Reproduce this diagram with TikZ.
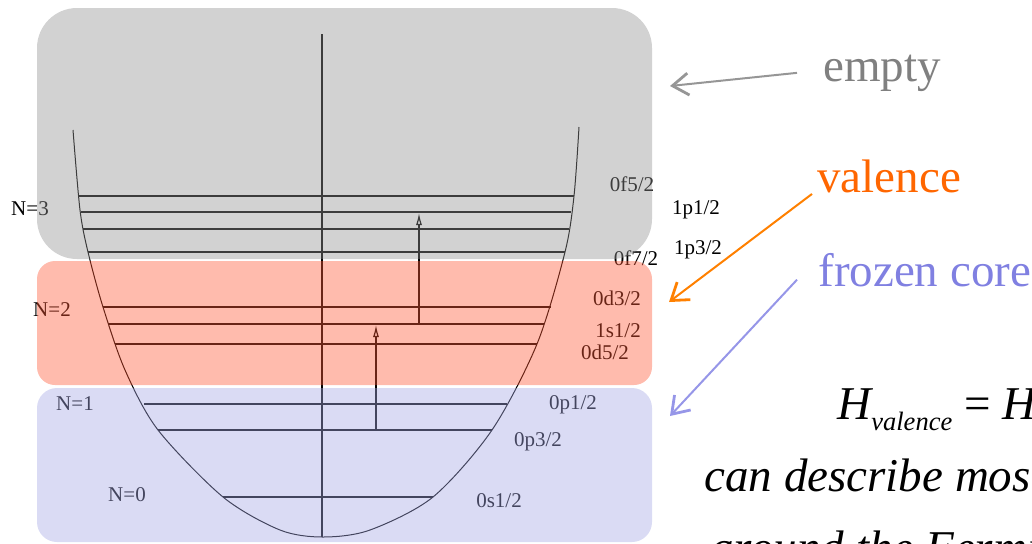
\documentclass[tikz,border=0pt]{standalone}
\usepackage{fontspec}
\setmainfont{Liberation Serif}
\usetikzlibrary{arrows.meta}
\definecolor{emptygray}{RGB}{146,146,146}
\definecolor{valred}{RGB}{255,89,55}
\definecolor{coreblue}{RGB}{165,168,229}
\definecolor{txtgray}{RGB}{128,128,128}
\definecolor{txtorange}{RGB}{255,102,0}
\definecolor{txtblue}{RGB}{128,128,225}
\definecolor{arrgray}{RGB}{150,150,150}
\definecolor{arrorange}{RGB}{255,128,0}
\definecolor{arrblue}{RGB}{150,150,232}
\begin{document}
\begin{tikzpicture}[x=0.5pt,y=-0.5pt,
    level/.style={line width=0.8pt},
    lab/.style={font=\fontsize{10.5}{12}\selectfont, inner sep=0pt},
    big/.style={font=\fontsize{23.5}{28}\selectfont, inner sep=0pt, anchor=base west},
    bigit/.style={font=\fontsize{23.5}{28}\selectfont\itshape, inner sep=0pt, anchor=base west},
    pointer/.style={line width=1pt, -{Straight Barb[length=8pt,width=11pt,line width=1.4pt]}},
    exc/.style={line width=0.6pt, -{Latex[open,length=6pt,width=3pt]}},
    band/.style={fill opacity=0.41, rounded corners=#1}]
  \useasboundingbox (0,0) rectangle (1032,543);
  \clip (0,0) rectangle (1032,543);
  % oscillator well and axis
  \draw[line width=0.5pt] plot[smooth] coordinates {(73,130) (80,210) (88,252) (103,307)
    (125,370) (158,430) (223,497) (280,530) (323,537) (370,530) (433,497) (492,430)
    (537,344) (565,252) (574,196) (579,127)};
  \coordinate (axtop) at (322,34);
  \coordinate (axbot) at (322,537);
  \draw[line width=0.8pt] (axtop) -- (axbot);
  % level ends
  \coordinate (f52l) at (78,196);  \coordinate (f52r) at (574,196);
  \coordinate (p12l) at (81,212);  \coordinate (p12r) at (571,212);
  \coordinate (p32l) at (83,229);  \coordinate (p32r) at (569,229);
  \coordinate (f72l) at (88,252);  \coordinate (f72r) at (565,252);
  \coordinate (d32l) at (103,307); \coordinate (d32r) at (551,307);
  \coordinate (s12l) at (108,324); \coordinate (s12r) at (544,324);
  \coordinate (d52l) at (115,344); \coordinate (d52r) at (537,344);
  \coordinate (op12l) at (144,404); \coordinate (op12r) at (507,404);
  \coordinate (op32l) at (158,430); \coordinate (op32r) at (492,430);
  \coordinate (os12l) at (223,497); \coordinate (os12r) at (433,497);
  \path[level]
    (f52l) edge (f52r)
    (p12l) edge (p12r)
    (p32l) edge (p32r)
    (f72l) edge (f72r)
    (d32l) edge (d32r)
    (s12l) edge (s12r)
    (d52l) edge (d52r)
    (op12l) edge (op12r)
    (op32l) edge (op32r)
    (os12l) edge (os12r);
  % shell labels
  \node[lab] (N3) at (30,209) {N=3};
  \node[lab] (N2) at (52,310) {N=2};
  \node[lab] (N1) at (75,404) {N=1};
  \node[lab] (N0) at (127,495) {N=0};
  \node[lab] (f52) at (632,184) {0f5/2};
  \node[lab] (p12) at (696,210) {1p1/2};
  \node[lab] (p32) at (698,250) {1p3/2};
  \node[lab] (f72) at (636,258) {0f7/2};
  \node[lab] (d32) at (617,298) {0d3/2};
  \node[lab] (s12) at (618,331) {1s1/2};
  \node[lab] (d52) at (605,352) {0d5/2};
  \node[lab] (op12) at (573,405) {0p1/2};
  \node[lab] (op32) at (538,442) {0p3/2};
  \node[lab] (os12) at (499,501) {0s1/2};
  % excitations
  \coordinate (h1) at (376,430); \coordinate (e1) at (376,325);
  \coordinate (h2) at (419,324); \coordinate (e2) at (419,213);
  \draw[exc] (h1) -- (e1);
  \draw[exc] (h2) -- (e2);
  % spaces
  \fill[emptygray, band=20pt] (37,8) rectangle (652,259);
  \fill[valred, band=9pt] (37,261) rectangle (652,385);
  \fill[coreblue, band=10pt] (37,388) rectangle (652,542);
  \node[big, text=txtgray] (empty) at (823,81) {empty};
  \node[big, text=txtorange] (valence) at (817,192) {valence};
  \node[big, text=txtblue] (core) at (818,286) {frozen core};
  \coordinate (emptytip) at (670,86);
  \coordinate (valtip) at (669,302);
  \coordinate (coretip) at (670,416);
  \draw[pointer, arrgray] ([xshift=-13pt]empty.west) -- (emptytip);
  \draw[pointer, arrorange] ([shift={(-5,18)}]valence.west) -- (valtip);
  \draw[pointer, arrblue] ([shift={(-21,10)}]core.west) -- (coretip);
  % hamiltonian
  \node[bigit] (ham) at (837,419) {H\raisebox{-5.5pt}{\fontsize{13.25}{15}\selectfont valence}\ {\upshape =}\ H};
  \node[bigit] (desc) at (704,491) {can describe most};
  \node[bigit] (fermi) at (710,563) {around the Fermi};
\end{tikzpicture}
\end{document}
